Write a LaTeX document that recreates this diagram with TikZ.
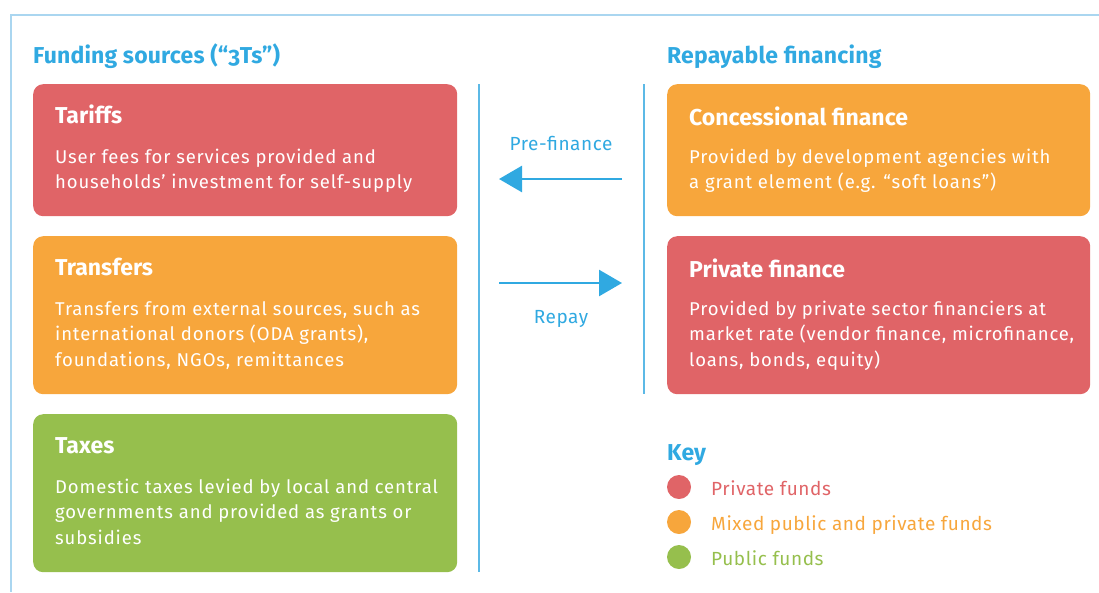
\documentclass[tikz,border=0pt]{standalone}
\usepackage{fontspec}
\setmainfont{Fira Sans}[Numbers=OldStyle]
\newfontfamily\bodyfont{Fira Sans}[LetterSpace=4.7]
\newfontfamily\lblfont{Fira Sans}[LetterSpace=3.0]
\newfontfamily\headfont{Fira Sans}[Numbers=OldStyle,LetterSpace=0.8]
\usetikzlibrary{arrows.meta}
\definecolor{cred}{HTML}{E06467}
\definecolor{corange}{HTML}{F7A63C}
\definecolor{cgreen}{HTML}{96BF4D}
\definecolor{cblue}{HTML}{30A9E1}
\definecolor{cline}{HTML}{5CB9E6}
\definecolor{cframe}{HTML}{AAD6F0}
\newcommand\blines[1]{\vtop{\baselineskip=25.5pt\lineskiplimit=-20pt #1}}
\begin{document}
\begin{tikzpicture}[x=1pt,y=-1pt,
  box/.style={rounded corners=10pt, minimum width=424pt, inner sep=0pt, anchor=north west, draw=none},
  ttl/.style={text=white, font=\fontsize{23}{27}\selectfont\bfseries, anchor=base west, inner sep=0pt},
  bdy/.style={text=white, font=\bodyfont\fontsize{18.5}{25.5}\selectfont, anchor=base west, inner sep=0pt},
  head/.style={text=cblue, font=\headfont\fontsize{23}{27}\selectfont\bfseries, anchor=base west, inner sep=0pt},
  lbl/.style={text=cblue, font=\lblfont\fontsize{19}{23}\selectfont, anchor=base, inner sep=0pt},
  keyl/.style={font=\lblfont\fontsize{19}{23}\selectfont, anchor=base west, inner sep=0pt},
  dot/.style={circle, minimum size=24pt, inner sep=0pt, draw=none},
  arr/.style={draw=cblue, line width=2.7pt, -{Triangle[length=23pt,width=26pt]}},
  vline/.style={draw=cline, line width=1.6pt},
  frm/.style={draw=cframe, line width=1.5pt}]
\useasboundingbox (0,0) rectangle (1099,592);
\draw[frm] (1099,15) -- (11,15) -- (11,592);

% headings
\node[head] (h1) at (33,63) {Funding sources (“3Ts”)};
\node[head] (h2) at (667,63) {Repayable financing};

% left boxes
\node[box, fill=cred, minimum height=132pt] (tar) at (33,84) {};
\node[ttl] (tarT) at (55,123) {Tariffs};
\node[bdy] (tarB) at (55,163) {\blines{\hbox{User fees for services provided and}\hbox{households’ investment for self-supply}}};

\node[box, fill=corange, minimum height=158pt] (tra) at (33,236) {};
\node[ttl] (traT) at (55,275) {Transfers};
\node[bdy] (traB) at (55,315) {\blines{\hbox{Transfers from external sources, such as}\hbox{international donors (ODA grants),}\hbox{foundations, NGOs, remittances}}};

\node[box, fill=cgreen, minimum height=158pt] (tax) at (33,414) {};
\node[ttl] (taxT) at (55,453) {Taxes};
\node[bdy] (taxB) at (55,493) {\blines{\hbox{Domestic taxes levied by local and central}\hbox{governments and provided as grants or}\hbox{subsidies}}};

% right boxes
\node[box, fill=corange, minimum height=132pt, minimum width=423pt] (con) at (667,84) {};
\node[ttl] (conT) at (689,125) {Concessional finance};
\node[bdy] (conB) at (689,163) {\blines{\hbox{Provided by development agencies with}\hbox{a grant element (e.g. “soft loans”)}}};

\node[box, fill=cred, minimum height=158pt, minimum width=423pt] (pri) at (667,236) {};
\node[ttl] (priT) at (689,277) {Private finance};
\node[bdy] (priB) at (689,315) {\blines{\hbox{Provided by private sector financiers at}\hbox{market rate (vendor finance, microfinance,}\hbox{loans, bonds, equity)}}};

% vertical lines
\coordinate (v1a) at (479,84); \coordinate (v1b) at (479,572);
\coordinate (v2a) at (644,84); \coordinate (v2b) at (644,394);
\draw[vline] (v1a) -- (v1b);
\draw[vline] (v2a) -- (v2b);

% arrows
\coordinate (pfA) at (622,179); \coordinate (pfB) at (499,179);
\coordinate (rpA) at (499,283); \coordinate (rpB) at (622,283);
\draw[arr] (pfA) -- (pfB);
\draw[arr] (rpA) -- (rpB);
\node[lbl] (pfL) at (561,150) {Pre-finance};
\node[lbl] (rpL) at (561,323) {Repay};

% key
\node[head] (key) at (667,460) {Key};
\node[dot, fill=cred] (k1) at (679,487) {};
\node[dot, fill=corange] (k2) at (679,522) {};
\node[dot, fill=cgreen] (k3) at (679,557) {};
\node[keyl, text=cred] (k1L) at (711,495) {Private funds};
\node[keyl, text=corange] (k2L) at (711,530) {Mixed public and private funds};
\node[keyl, text=cgreen] (k3L) at (711,565) {Public funds};
\end{tikzpicture}
\end{document}
